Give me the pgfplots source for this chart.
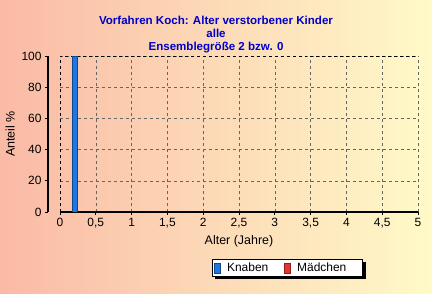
\documentclass[border=0pt]{standalone}
\usepackage{pgfplots}
\pgfplotsset{compat=1.18}
\usepackage{fontspec}
\setmainfont{Liberation Sans}
\definecolor{bgleft}{RGB}{250,186,166}
\definecolor{bgright}{RGB}{255,250,200}
\definecolor{titleblue}{RGB}{0,0,200}
\definecolor{knaben}{RGB}{28,120,230}
\definecolor{maedchen}{RGB}{235,50,50}
\pgfdeclarelayer{bg}
\pgfsetlayers{bg,main}
\begin{document}
\begin{tikzpicture}[x=1bp,y=1bp]
\useasboundingbox (0,0) rectangle (432,294);
\begin{pgfonlayer}{bg}
\shade[left color=bgleft,right color=bgright] (0,0) rectangle (432,294);
\end{pgfonlayer}
\begin{axis}[
  at={(60bp,82bp)}, anchor=south west,
  scale only axis, width=358bp, height=156bp,
  xmin=0, xmax=5, ymin=0, ymax=100,
  axis x line=bottom, axis y line=left,
  axis line style={black, line width=1.2bp, -},
  y axis line style={draw=none},
  xtick={0,0.5,...,5}, ytick={0,20,...,100},
  yticklabels={},
  ytick style={draw=none},
  tick align=outside, major tick length=3bp,
  xtick style={black, line width=0.6bp},
  grid=major,
  major grid style={dashed, gray!80!black, line width=0.5bp},
  /pgf/number format/use comma,
  /pgf/number format/assume math mode=true,
  ticklabel style={font=\fontsize{12}{14}\selectfont},
  xlabel={Alter (Jahre)},
  label style={font=\fontsize{12.5}{14}\selectfont},
  xlabel style={yshift=0bp},
  legend style={name=leg, at={(0.4246,-0.301)}, anchor=north west, draw=none, fill=none,
    font=\fontsize{12}{14}\selectfont, legend columns=2,
    /tikz/every odd column/.append style={column sep=5bp},
    /tikz/every even column/.append style={column sep=14bp},
    inner xsep=2bp, inner ysep=1.5bp},
  legend image code/.code={\draw[#1] (0bp,-5bp) rectangle (5.5bp,5bp);},
]
\draw[dashed, black, line width=0.6bp] (rel axis cs:0,0) -- (rel axis cs:0,1) -- (rel axis cs:1,1) -- (rel axis cs:1,0);
\addplot[ybar, bar width=5bp, bar shift=0pt, fill=knaben, draw=knaben!60!black] coordinates {(0.2,100)};
\addlegendentry{Knaben}
\addlegendimage{fill=maedchen, draw=maedchen!60!black}
\addlegendentry{Mädchen\hspace*{12bp}}
\end{axis}
\begin{axis}[
  at={(48bp,82bp)}, anchor=south west,
  scale only axis, width=5bp, height=156bp,
  xmin=0, xmax=1, ymin=0, ymax=100,
  axis y line=left, axis x line=none,
  axis line style={black, line width=1.5bp, -},
  ytick={0,20,...,100},
  tick align=outside, major tick length=3bp,
  tick style={black, line width=0.6bp},
  /pgf/number format/assume math mode=true,
  ticklabel style={font=\fontsize{12}{14}\selectfont},
  ylabel={Anteil \%},
  label style={font=\fontsize{12.5}{14}\selectfont},
]
\end{axis}
\begin{pgfonlayer}{bg}
\fill[black] ([shift={(3bp,-3bp)}]leg.south west) rectangle ([shift={(3bp,-3bp)}]leg.north east);
\filldraw[fill=white, draw=black, line width=0.6bp] (leg.south west) rectangle (leg.north east);
\end{pgfonlayer}
\node[anchor=base, text=titleblue, font=\fontsize{11.6}{13}\selectfont\bfseries] at (216,270) {Vorfahren Koch: Alter verstorbener Kinder};
\node[anchor=base, text=titleblue, font=\fontsize{11.6}{13}\selectfont\bfseries] at (216,257) {alle};
\node[anchor=base, text=titleblue, font=\fontsize{11.6}{13}\selectfont\bfseries] at (216,244) {Ensemblegröße 2 bzw. 0};
\end{tikzpicture}
\end{document}
